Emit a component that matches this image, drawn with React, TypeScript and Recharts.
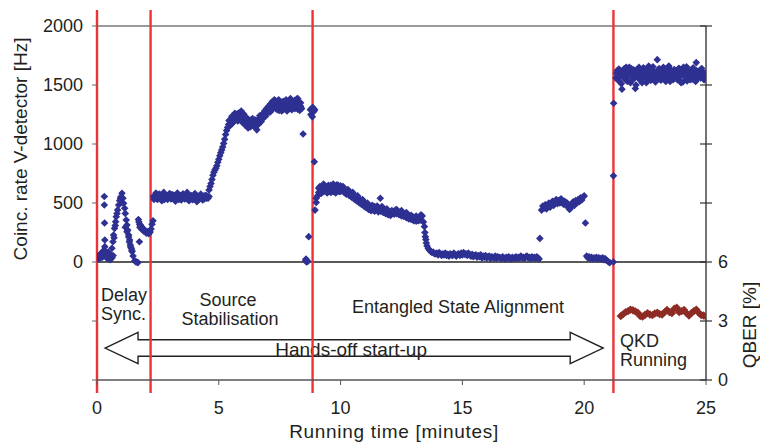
import React from 'react';
import { ComposedChart, Scatter, XAxis, YAxis, ReferenceLine } from 'recharts';

const FONT = '"Liberation Sans", Arial, Helvetica, sans-serif';
const TEXT_COLOR = '#231f20';
const RATE_COLOR = '#2e3192';
const QBER_COLOR = '#8e2b24';
const PHASE_COLOR = '#ee3338';

// Axis ticks
const timeTicks = [0, 5, 10, 15, 20, 25];
const rateTicks = [-1000, -500, 0, 500, 1000, 1500, 2000];
const qberTicks = [0, 3, 6, 9, 12, 15, 18];

// Phase boundaries [minutes]
const phaseBoundaries = [0, 2.2, 8.85, 21.2];

// Delay synchronisation scan: irregular samples [minutes, Hz]
const delaySyncPoints: [number, number][] = [
  [0.02, 45], [0.06, 25], [0.1, 60], [0.14, 35], [0.18, 75], [0.22, 40], [0.26, 95],
  [0.34, 50], [0.38, 70], [0.42, 30], [0.46, 85], [0.5, 45], [0.54, 20], [0.58, 60],
  [0.62, 35], [0.66, 55],
  [0.3, 555], [0.3, 483], [0.31, 330], [0.32, 186], [0.32, 130], [0.3, 100],
  [0.615, 116], [0.655, 172], [0.68, 229], [0.7, 205], [0.72, 285], [0.75, 310],
  [0.765, 342], [0.79, 384], [0.82, 410], [0.846, 441], [0.89, 483], [0.93, 520],
  [0.96, 540], [0.985, 554], [1.025, 582],
  [1.066, 540], [1.09, 497], [1.134, 455], [1.16, 412], [1.2, 356], [1.23, 314],
  [1.26, 271], [1.3, 229], [1.34, 186], [1.37, 144], [1.41, 116], [1.44, 88],
  [1.48, 51], [1.55, 11], [1.6, 0], [1.64, 0], [1.68, -5],
  [1.16, 294], [1.23, 257], [1.3, 212], [1.33, 170], [1.38, 127], [1.43, 100],
  [1.74, 172],
  [1.7, 360], [1.72, 340], [1.75, 320], [1.78, 314], [1.82, 300], [1.86, 290],
  [1.9, 280], [1.95, 272], [2.0, 262], [2.05, 257], [2.1, 252], [2.15, 248],
  [2.18, 255], [2.22, 280], [2.26, 320], [2.3, 350],
  [1.76, 295], [1.84, 275], [1.92, 262], [2.02, 245], [2.12, 240],
];

// Source stabilisation plateau, sampled every 0.04 min from 2.32 min
const stabilisationStart = 2.32;
const stabilisationStep = 0.04;
const stabilisationRates = [
  555, 540, 568, 545, 530, 560, 575, 548, 535, 562, 550, 528, 570, 545, 558, 540,
  565, 552, 535, 572, 548, 560, 538, 555, 545, 568, 530, 552, 562, 540, 575, 548,
  535, 558, 545, 530, 565, 550, 540, 560, 528, 553, 545, 570, 538, 555, 547, 532,
  562, 550, 540, 558, 535, 545, 565, 550, 540, 555,
];
// Second read-out over the same plateau, every 0.08 min from 2.34 min
const stabilisationStartB = 2.34;
const stabilisationStepB = 0.08;
const stabilisationRatesB = [
  530, 585, 545, 570, 520, 590, 555, 530, 580, 540, 565, 515, 585, 550, 525, 575,
  545, 590, 520, 560, 535, 580, 510, 555, 575, 525, 560, 540,
];

// Source rise and high plateau, sampled every 0.04 min from 4.60 min
const riseStart = 4.6;
const riseStep = 0.04;
const riseRates = [
  610, 640, 665, 700, 735, 760, 780, 795, 815, 845, 870, 900, 925, 950, 975, 1005,
  1040, 1080, 1115, 1140, 1165, 1150, 1190, 1210, 1175, 1225, 1195, 1240, 1210, 1255,
  1225, 1265, 1235, 1280, 1250, 1215, 1240, 1195, 1170, 1210, 1160, 1185, 1145, 1200,
  1165, 1190, 1150, 1205, 1175, 1120, 1195, 1215, 1180, 1230, 1205, 1255, 1225, 1280,
  1250, 1300, 1270, 1320, 1290, 1340, 1305, 1360, 1325, 1375, 1340, 1300, 1350, 1315,
  1285, 1340, 1305, 1355, 1290, 1330, 1300, 1345, 1280, 1325, 1360, 1300, 1335, 1290,
  1345, 1310, 1370, 1325, 1380, 1295, 1340, 1285, 1320, 1300,
];
// Additional high-plateau readings, every 0.06 min from 5.42 min
const plateauHighStart = 5.42;
const plateauHighStep = 0.06;
const plateauHighRates = [
  1200, 1170, 1235, 1190, 1260, 1230, 1195, 1245, 1220, 1185,
  1255, 1160, 1225, 1135, 1175, 1150, 1215, 1170, 1140, 1185,
  1165, 1240, 1190, 1230, 1265, 1235, 1285, 1300, 1270, 1325,
  1295, 1345, 1365, 1290, 1375, 1320, 1280, 1360, 1310, 1375,
  1300, 1340, 1385, 1310, 1355, 1300, 1345, 1385, 1315, 1350,
];

// Hand-over between source stabilisation and alignment [minutes, Hz]
const transitionPoints: [number, number][] = [
  [8.46, 1085], [8.56, 15], [8.58, 25], [8.6, 0], [8.62, 10], [8.65, 5], [8.69, 215],
  [8.76, 1290], [8.78, 1250], [8.8, 1300], [8.84, 1230], [8.86, 1310], [8.9, 1275],
  [8.92, 850], [8.94, 1290],
];

// Entangled state alignment, sampled every 0.05 min from 8.95 min
const alignStart = 8.95;
const alignStep = 0.05;
const alignRates = [
  440, 505, 560, 590, 640, 605, 630, 595, 645, 610, 585, 635, 600, 650, 615, 595,
  640, 605, 655, 620, 595, 645, 605, 625, 590, 615, 575, 600, 565, 590, 550, 575,
  535, 560, 520, 545, 505, 530, 490, 515, 475, 500, 460, 485, 445, 470, 435, 465,
  440, 470, 445, 460, 425, 455, 430, 460, 420, 445, 410, 435, 400, 425, 395, 420,
  430, 405, 440, 410, 430, 400, 425, 390, 415, 385, 405, 375, 400, 365, 390, 360,
  385, 350, 375, 345, 370, 350, 380, 355, 390, 340,
];
// Additional alignment readings, every 0.1 min from 9.0 min
const alignStartB = 9.0;
const alignStepB = 0.1;
const alignRatesB = [
  540, 625, 580, 660, 600, 650, 590, 660, 585, 650,
  600, 640, 580, 615, 560, 590, 530, 560, 500, 530,
  470, 500, 455, 480, 430, 475, 440, 470, 420, 450,
  405, 435, 425, 445, 410, 435, 395, 420, 380, 395,
  360, 390, 355, 400,
];

// Drop-off and isolated readings during alignment [minutes, Hz]
const alignExtraPoints: [number, number][] = [
  [11.63, 540],
  [13.44, 300], [13.46, 250], [13.48, 215], [13.5, 190], [13.52, 160], [13.55, 135],
  [13.6, 115], [13.65, 100], [13.7, 90], [13.75, 80], [13.8, 85], [13.85, 70],
  [18.18, 200], [20.05, 330],
];

// Low-rate tail, sampled every 0.05 min from 13.90 min
const tailStart = 13.9;
const tailStep = 0.05;
const tailRates = [
  70, 75, 60, 80, 65, 55, 70, 60, 75, 55,
  65, 50, 70, 60, 55, 75, 60, 50, 65, 70,
  55, 75, 60, 80, 65, 70, 55, 75, 60, 50,
  65, 45, 55, 60, 40, 55, 45, 60, 35, 50,
  40, 55, 35, 45, 50, 30, 45, 40, 35, 50,
  30, 45, 40, 35, 30, 45, 35, 25, 40, 30,
  45, 35, 25, 40, 30, 35, 45, 30, 40, 35,
  50, 35, 40, 30, 45, 50, 35, 40, 30, 45,
  35, 40, 30, 45, 35, 25,
];

// Second alignment plateau, sampled every 0.05 min from 18.25 min
const plateauStart = 18.25;
const plateauStep = 0.05;
const plateauRates = [
  440, 475, 455, 485, 450, 470, 500, 465, 490, 515, 480, 505, 530, 495, 520, 500,
  535, 505, 490, 515, 480, 500, 470, 445, 460, 495, 510, 480, 520, 500, 530, 510,
  545, 525, 550, 560,
];

// Final low segment, sampled every 0.05 min from 20.10 min
const lowStart = 20.1;
const lowStep = 0.05;
const lowRates = [50, 35, 45, 30, 40, 25, 35, 30, 40, 25, 35, 30, 25, 35, 20, 30, 15, 10, 0, -5];

// Switch-over to QKD [minutes, Hz]
const switchPoints: [number, number][] = [[21.2, 0], [21.2, 730], [21.21, 1345]];

// QKD running, sampled every 0.05 min from 21.30 min
const qkdStart = 21.3;
const qkdStep = 0.05;
const qkdRates = [
  1560, 1620, 1580, 1530, 1600, 1465, 1590, 1640, 1545, 1610,
  1575, 1650, 1520, 1600, 1630, 1555, 1470, 1620, 1585, 1650,
  1540, 1600, 1565, 1640, 1595, 1520, 1610, 1660, 1575, 1545,
  1630, 1590, 1605, 1555, 1715, 1580, 1620, 1540, 1600, 1650,
  1570, 1530, 1615, 1590, 1640, 1560, 1605, 1545, 1630, 1585,
  1610, 1550, 1640, 1575, 1600, 1525, 1620, 1590, 1655, 1560,
  1600, 1545, 1630, 1580, 1610, 1540, 1690, 1595, 1565, 1625,
  1580, 1610, 1550, 1600, 1575,
];
// Interleaved QKD readings, every 0.05 min from 21.325 min
const qkdStartB = 21.325;
const qkdStepB = 0.05;
const qkdRatesB = [
  1600, 1545, 1635, 1575, 1510, 1620, 1560, 1595, 1650, 1530,
  1615, 1585, 1640, 1545, 1590, 1625, 1500, 1605, 1560, 1635,
  1580, 1520, 1645, 1590, 1555, 1630, 1570, 1600, 1540, 1615,
  1655, 1565, 1525, 1610, 1585, 1640, 1550, 1620, 1575, 1595,
  1635, 1545, 1600, 1660, 1530, 1615, 1580, 1625, 1560, 1605,
  1545, 1640, 1585, 1520, 1610, 1650, 1570, 1600, 1535, 1625,
  1580, 1615, 1550, 1645, 1595, 1530, 1620, 1575, 1605, 1560,
  1640, 1590, 1545, 1600,
];

// QBER during QKD, sampled every 0.1 min from 21.5 min [%]
const qberStart = 21.5;
const qberStep = 0.1;
const qberValues = [
  3.25, 3.35, 3.45, 3.5, 3.58, 3.55, 3.48, 3.42, 3.25, 3.22, 3.32, 3.4,
  3.33, 3.3, 3.38, 3.42, 3.35, 3.33, 3.45, 3.56, 3.45, 3.4, 3.62, 3.68,
  3.45, 3.5, 3.56, 3.4, 3.28, 3.4, 3.5, 3.58, 3.42, 3.3, 3.28, 3.22,
];

type Pt = { t: number; v: number };

const fromPairs = (pairs: [number, number][]): Pt[] => pairs.map(([t, v]) => ({ t, v }));
const fromRun = (start: number, step: number, values: number[]): Pt[] =>
  values.map((v, i) => ({ t: +(start + i * step).toFixed(3), v }));

const rateData: Pt[] = [
  ...fromPairs(delaySyncPoints),
  ...fromRun(stabilisationStart, stabilisationStep, stabilisationRates),
  ...fromRun(stabilisationStartB, stabilisationStepB, stabilisationRatesB),
  ...fromRun(riseStart, riseStep, riseRates),
  ...fromRun(plateauHighStart, plateauHighStep, plateauHighRates),
  ...fromPairs(transitionPoints),
  ...fromRun(alignStart, alignStep, alignRates),
  ...fromRun(alignStartB, alignStepB, alignRatesB),
  ...fromPairs(alignExtraPoints),
  ...fromRun(tailStart, tailStep, tailRates),
  ...fromRun(plateauStart, plateauStep, plateauRates),
  ...fromRun(lowStart, lowStep, lowRates),
  ...fromPairs(switchPoints),
  ...fromRun(qkdStart, qkdStep, qkdRates),
  ...fromRun(qkdStartB, qkdStepB, qkdRatesB),
];

const qberData: Pt[] = fromRun(qberStart, qberStep, qberValues);

const diamond = (fill: string, r: number) => (p: any) => {
  const { cx, cy } = p;
  if (cx == null || cy == null) return <g />;
  return (
    <polygon
      points={`${cx},${cy - r} ${cx + r},${cy} ${cx},${cy + r} ${cx - r},${cy}`}
      fill={fill}
    />
  );
};

// Right axis: ticks crossing the axis line, labels only up to 6 %
const RightTick = (p: any) => {
  const { x, y, payload } = p;
  const axisX = x - 12;
  const v = payload.value;
  return (
    <g>
      <line x1={axisX - 6} x2={axisX + 6} y1={y} y2={y} stroke="#333" strokeWidth={1.2} />
      {v <= 6 && (
        <text x={x} y={y} dy="0.36em" textAnchor="start" fontSize={18} fontFamily={FONT} fill={TEXT_COLOR}>
          {v}
        </text>
      )}
    </g>
  );
};

// Double-headed arrow spanning the hands-off start-up, with its caption
const DoubleArrow = (p: any) => {
  const { x1, x2, y1 } = p;
  const left = Math.min(x1, x2);
  const right = Math.max(x1, x2);
  const y = y1;
  const shaft = 8.3;
  const head = 15.6;
  const headLen = 33;
  const pts = [
    [left, y],
    [left + headLen, y - head],
    [left + headLen, y - shaft],
    [right - headLen, y - shaft],
    [right - headLen, y - head],
    [right, y],
    [right - headLen, y + head],
    [right - headLen, y + shaft],
    [left + headLen, y + shaft],
    [left + headLen, y + head],
  ]
    .map(([a, b]) => `${a},${b}`)
    .join(' ');
  return (
    <g>
      <polygon points={pts} fill="#fff" stroke="#222" strokeWidth={1.4} />
      <text
        x={(left + right) / 2 - 3}
        y={y + 8}
        textAnchor="middle"
        fontSize={19}
        fontFamily={FONT}
        fill={TEXT_COLOR}
      >
        Hands-off start-up
      </text>
    </g>
  );
};

const noteStyle = { fontSize: 18, fontFamily: FONT, fill: TEXT_COLOR } as const;

export default function App() {
  return (
    <div style={{ position: 'absolute', left: 0, top: 0, width: 760, height: 443, background: '#fff' }}>
      <ComposedChart
        width={760}
        height={443}
        margin={{ top: 26, right: 14, bottom: 33, left: 37 }}
        style={{ fontFamily: FONT }}
      >
        <XAxis
          dataKey="t"
          type="number"
          domain={[0, 25]}
          ticks={timeTicks}
          allowDataOverflow
          tickSize={5}
          tickMargin={16}
          height={30}
          axisLine={{ stroke: '#555', strokeWidth: 1.5 }}
          tickLine={{ stroke: '#555' }}
          tick={{ fontSize: 18, fill: TEXT_COLOR, fontFamily: FONT }}
        />
        <YAxis
          yAxisId="rate"
          type="number"
          domain={[-1000, 2000]}
          ticks={rateTicks}
          width={60}
          tickSize={5}
          tickMargin={9}
          interval={0}
          axisLine={false}
          tickLine={{ stroke: '#666' }}
          tickFormatter={(v: number) => (v < 0 ? '' : String(v))}
          tick={{ fontSize: 18, fill: TEXT_COLOR, fontFamily: FONT }}
        />
        <YAxis
          yAxisId="qber"
          orientation="right"
          type="number"
          domain={[0, 18]}
          ticks={qberTicks}
          width={40}
          tickSize={6}
          tickMargin={6}
          interval={0}
          tickLine={false}
          axisLine={{ stroke: '#444', strokeWidth: 1.5 }}
          tick={<RightTick />}
        />

        <ReferenceLine yAxisId="rate" y={2000} stroke="#9a9a9a" strokeWidth={2} />
        <ReferenceLine yAxisId="rate" y={0} stroke="#222" strokeWidth={1.6} />

        <ReferenceLine
          yAxisId="rate"
          segment={[{ x: 0.33, y: -729 }, { x: 20.78, y: -729 }]}
          ifOverflow="visible"
          shape={(p: any) => <DoubleArrow {...p} />}
        />

        {phaseBoundaries.map((b) => (
          <ReferenceLine
            key={b}
            yAxisId="rate"
            segment={[{ x: b, y: 2136 }, { x: b, y: -1110 }]}
            ifOverflow="visible"
            stroke={PHASE_COLOR}
            strokeWidth={2.4}
          />
        ))}

        <Scatter
          yAxisId="rate"
          data={rateData}
          dataKey="v"
          isAnimationActive={false}
          shape={diamond(RATE_COLOR, 3.8)}
        />
        <Scatter
          yAxisId="qber"
          data={qberData}
          dataKey="v"
          isAnimationActive={false}
          line={{ stroke: QBER_COLOR, strokeWidth: 3.5 }}
          lineType="joint"
          shape={diamond(QBER_COLOR, 4.2)}
        />

        <text x={101} y={301} {...noteStyle}>Delay</text>
        <text x={101} y={319.5} {...noteStyle}>Sync.</text>
        <text x={228} y={306} textAnchor="middle" {...noteStyle}>Source</text>
        <text x={230} y={324.5} textAnchor="middle" {...noteStyle}>Stabilisation</text>
        <text x={458} y={313} textAnchor="middle" {...noteStyle}>Entangled State Alignment</text>
        <text x={620} y={347} {...noteStyle}>QKD</text>
        <text x={620} y={365.5} {...noteStyle}>Running</text>

        <text
          x={394}
          y={438}
          textAnchor="middle"
          fontSize={19}
          letterSpacing={0.7}
          fontFamily={FONT}
          fill={TEXT_COLOR}
        >
          Running time [minutes]
        </text>
        <text
          x={27}
          y={149}
          textAnchor="middle"
          fontSize={19}
          fontFamily={FONT}
          fill={TEXT_COLOR}
          transform="rotate(-90, 27, 149)"
        >
          Coinc. rate V-detector [Hz]
        </text>
        <text
          x={756}
          y={325}
          textAnchor="middle"
          fontSize={19}
          fontFamily={FONT}
          fill={TEXT_COLOR}
          transform="rotate(-90, 756, 325)"
        >
          QBER [%]
        </text>
      </ComposedChart>
    </div>
  );
}
